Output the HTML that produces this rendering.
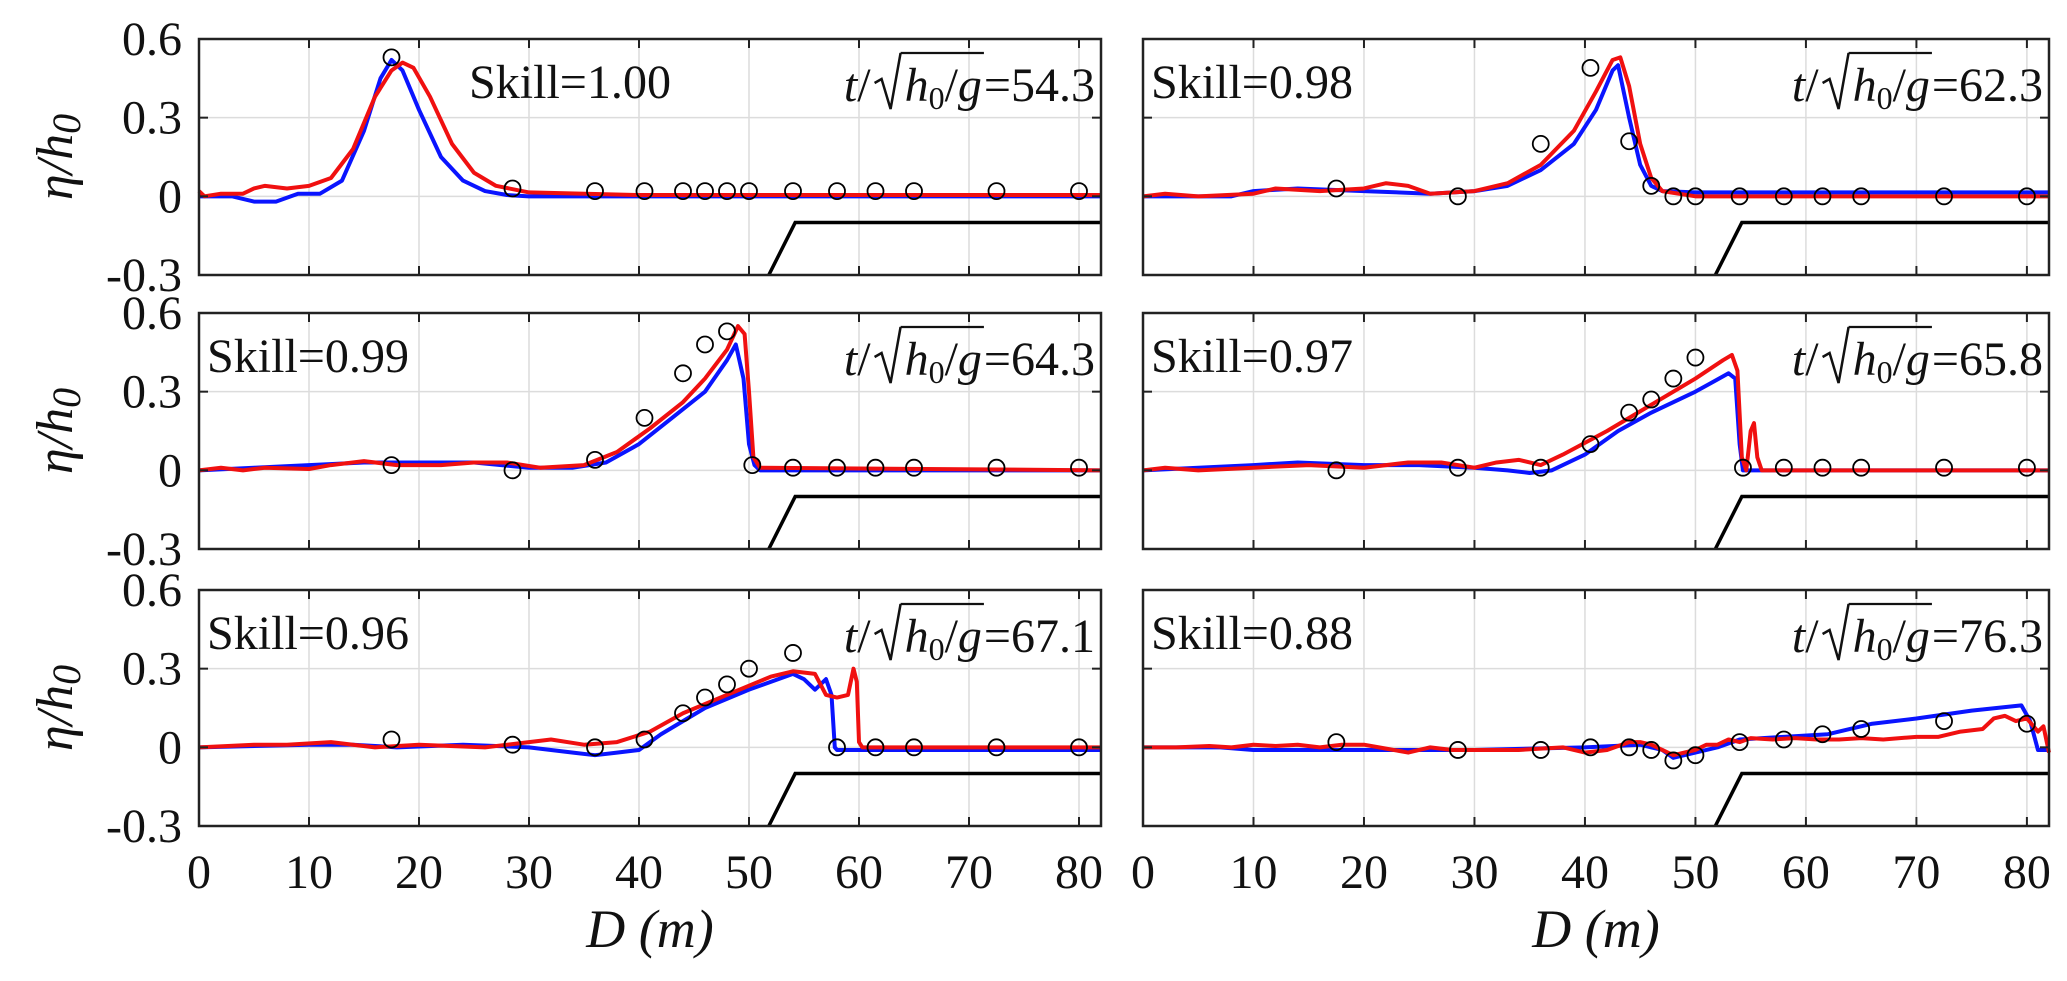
<!DOCTYPE html>
<html><head><meta charset="utf-8">
<style>
html,body{margin:0;padding:0;background:#fff;}
svg{display:block;}
text{font-family:"Liberation Serif","DejaVu Serif",serif;fill:#111;}
</style></head>
<body>
<svg id="fig" width="2067" height="981" viewBox="0 0 2067 981" xmlns="http://www.w3.org/2000/svg"></svg>
<script>
// ---- data ----
const xTicks = [0,10,20,30,40,50,60,70,80];
const yTicks = [-0.3,0,0.3,0.6];
const yTickLabels = ["-0.3","0","0.3","0.6"];
const skills = ["Skill=1.00","Skill=0.98","Skill=0.99","Skill=0.97","Skill=0.96","Skill=0.88"];
const times = ["54.3","62.3","64.3","65.8","67.1","76.3"];
const gaugeX = [17.5,28.5,36,40.5,44,46,48,50,54,58,61.5,65,72.5,80];
const bathX = [51.8,54.2,82];
const bathY = [-0.3,-0.1,-0.1];

const blue1X=[0,3,5,7,9,11,13,15,16.5,17.5,18.5,20,22,24,26,28,30,82];
const blue1Y=[0,0,-0.02,-0.02,0.01,0.01,0.06,0.25,0.45,0.52,0.48,0.33,0.15,0.06,0.02,0.005,0,0];
const red1X=[0,0.5,2,4,5,6,8,10,12,14,16,17.5,18.5,19.5,21,23,25,27,30,40,82];
const red1Y=[0.02,0,0.01,0.01,0.03,0.04,0.03,0.04,0.07,0.18,0.38,0.48,0.51,0.49,0.38,0.2,0.09,0.04,0.015,0.005,0.005];
const obs1=[0.53,0.03,0.02,0.02,0.02,0.02,0.02,0.02,0.02,0.02,0.02,0.02,0.02,0.02];

const blue2X=[0,8,10,14,20,26,30,33,36,39,41,42.5,43,44,45,46,47,50,82];
const blue2Y=[0,0,0.02,0.03,0.02,0.01,0.02,0.04,0.1,0.2,0.33,0.48,0.5,0.3,0.12,0.04,0.02,0.015,0.015];
const red2X=[0,2,5,10,12,16,20,22,24,26,30,33,36,39,41,42.5,43.2,44,45,46,47,50,82];
const red2Y=[0,0.01,0,0.01,0.03,0.02,0.03,0.05,0.04,0.01,0.02,0.05,0.12,0.25,0.4,0.52,0.53,0.42,0.2,0.07,0.02,0,0];
const obs2=[0.03,0,0.2,0.49,0.21,0.04,0,0,0,0,0,0,0,0];

const blue3X=[0,5,10,15,25,30,34,37,40,43,46,48,48.8,49.5,50,50.5,51,82];
const blue3Y=[0,0.01,0.02,0.03,0.03,0.01,0.01,0.03,0.1,0.2,0.3,0.42,0.48,0.35,0.1,0.02,0,0];
const red3X=[0,2,4,6,10,12,15,18,22,25,28,31,35,38,41,44,46,48,49,49.6,50,50.4,51,82];
const red3Y=[0,0.01,0,0.01,0.005,0.02,0.035,0.02,0.02,0.03,0.03,0.01,0.02,0.07,0.16,0.26,0.35,0.46,0.55,0.52,0.3,0.05,0.01,0];
const obs3=[0.02,0,0.04,0.2,0.37,0.48,0.53,0.02,0.01,0.01,0.01,0.01,0.01,0.01];
const gaugeX3=[17.5,28.5,36,40.5,44,46,48,50.3,54,58,61.5,65,72.5,80];

const blue4X=[0,10,14,20,25,30,33,35,37,40,43,46,50,53,53.6,54,54.3,82];
const blue4Y=[0,0.02,0.03,0.02,0.02,0.01,0,-0.01,0,0.06,0.15,0.22,0.3,0.37,0.35,0.1,0,0];
const red4X=[0,2,5,10,15,20,24,27,30,32,34,36,38,42,46,50,52.5,53.3,53.8,54.2,54.6,55,55.3,55.6,56,82];
const red4Y=[0,0.01,0,0.01,0.02,0.01,0.03,0.03,0.01,0.03,0.04,0.02,0.06,0.15,0.25,0.35,0.42,0.44,0.38,0.05,0,0.15,0.18,0.05,0,0];
const obs4=[0,0.01,0.01,0.1,0.22,0.27,0.35,0.43,0.01,0.01,0.01,0.01,0.01,0.01];
const gaugeX4=[17.5,28.5,36,40.5,44,46,48,50,54.3,58,61.5,65,72.5,80];

const blue5X=[0,10,14,18,24,30,34,36,38,40,42,46,50,54,55,56,57,57.5,57.8,58,82];
const blue5Y=[0,0.01,0.01,0,0.01,0,-0.02,-0.03,-0.02,-0.01,0.05,0.15,0.22,0.28,0.26,0.22,0.26,0.2,0,-0.01,-0.01];
const red5X=[0,5,8,12,16,20,26,30,32,35,38,41,44,48,52,54,56,57,58,59,59.5,59.8,60,60.3,82];
const red5Y=[0,0.01,0.01,0.02,0,0.01,0,0.02,0.03,0.01,0.02,0.06,0.13,0.2,0.27,0.29,0.28,0.2,0.19,0.2,0.3,0.25,0.02,0,0];
const obs5=[0.03,0.01,0,0.03,0.13,0.19,0.24,0.3,0.36,0,0,0,0,0];

const blue6X=[0,7,10,20,30,40,45,47,48,50,52,54,58,62,66,70,75,79.5,80.3,81,82];
const blue6Y=[0,0,-0.01,-0.01,-0.01,0,0.01,-0.01,-0.04,-0.02,0,0.03,0.04,0.05,0.09,0.11,0.14,0.16,0.1,-0.01,-0.01];
const red6X=[0,3,6,8,10,12,14,16,18,20,22,24,26,28,30,34,36,38,40,42,44,45,46,47,48,49,50,51,52,53,54,55,57,59,61,63,65,67,70,72,74,76,77,78,79,80,81,81.5,82];
const red6Y=[0,0,0.005,0,0.01,0.005,0.01,0,0.01,0.01,-0.005,-0.02,0,-0.01,-0.01,-0.01,-0.005,0,-0.02,-0.01,0.02,0.02,0.01,-0.01,-0.03,-0.02,-0.01,0.01,0.01,0.03,0.02,0.035,0.03,0.035,0.03,0.03,0.035,0.03,0.04,0.04,0.06,0.07,0.11,0.12,0.1,0.11,0.06,0.08,-0.02];
const obs6=[0.02,-0.01,-0.01,0,0,-0.01,-0.05,-0.03,0.02,0.03,0.05,0.07,0.1,0.09];

const panels=[
 {bx:blue1X,by:blue1Y,rx:red1X,ry:red1Y,gx:gaugeX,oy:obs1},
 {bx:blue2X,by:blue2Y,rx:red2X,ry:red2Y,gx:gaugeX,oy:obs2},
 {bx:blue3X,by:blue3Y,rx:red3X,ry:red3Y,gx:gaugeX3,oy:obs3},
 {bx:blue4X,by:blue4Y,rx:red4X,ry:red4Y,gx:gaugeX4,oy:obs4},
 {bx:blue5X,by:blue5Y,rx:red5X,ry:red5Y,gx:gaugeX,oy:obs5},
 {bx:blue6X,by:blue6Y,rx:red6X,ry:red6Y,gx:gaugeX,oy:obs6}
];

// ---- layout ----
const NS="http://www.w3.org/2000/svg";
const svg=document.getElementById('fig');
const colL=[199,1143], colW=[902,906];
const rowT=[39,313,590], rowH=236;
function mk(tag,attrs,parent){const e=document.createElementNS(NS,tag);for(const k in attrs)e.setAttribute(k,attrs[k]);(parent||svg).appendChild(e);return e;}
const FF='"Liberation Serif","DejaVu Serif",serif';

panels.forEach((p,i)=>{
  const c=i%2, r=Math.floor(i/2);
  const L=colL[c], T=rowT[r], W=colW[c], H=rowH;
  const sx=v=>L+v/82*W;
  const sy=v=>T+(0.6-v)/0.9*H;
  const g=mk('g',{});
  
  
  xTicks.forEach(t=>{ if(t>0){const l=mk('line',{x1:sx(t),x2:sx(t),y1:T,y2:T+H,stroke:'#dcdcdc','stroke-width':1.5},g);
    }});
  yTicks.forEach(t=>{ if(t>-0.3&&t<0.6){const l=mk('line',{x1:L,x2:L+W,y1:sy(t),y2:sy(t),stroke:'#dcdcdc','stroke-width':1.5},g);
    }});
  const bath=mk('polyline',{points:bathX.map((x,k)=>sx(x)+','+sy(bathY[k])).join(' '),fill:'none',stroke:'#000','stroke-width':3.5},g);
  
  const bl=mk('polyline',{points:p.bx.map((x,k)=>sx(x)+','+sy(p.by[k])).join(' '),fill:'none',stroke:'#0a14ff','stroke-width':4,'stroke-linejoin':'round'},g);
  
  const rl=mk('polyline',{points:p.rx.map((x,k)=>sx(x)+','+sy(p.ry[k])).join(' '),fill:'none',stroke:'#f01010','stroke-width':4,'stroke-linejoin':'round'},g);
  
  p.gx.forEach((x,k)=>{const m=mk('circle',{cx:sx(x),cy:sy(p.oy[k]),r:8,fill:'none',stroke:'#000','stroke-width':1.8},g);
    });
  const fr=mk('rect',{x:L,y:T,width:W,height:H,fill:'none',stroke:'#222','stroke-width':2.5},g);
  
  xTicks.forEach(t=>{mk('line',{x1:sx(t),x2:sx(t),y1:T,y2:T+9,stroke:'#222','stroke-width':2},g);mk('line',{x1:sx(t),x2:sx(t),y1:T+H,y2:T+H-9,stroke:'#222','stroke-width':2},g);});
  yTicks.forEach(t=>{mk('line',{x1:L,x2:L+9,y1:sy(t),y2:sy(t),stroke:'#222','stroke-width':2},g);mk('line',{x1:L+W,x2:L+W-9,y1:sy(t),y2:sy(t),stroke:'#222','stroke-width':2},g);});
  if(c===0){
    yTicks.forEach((t,k)=>{const tx=mk('text',{x:182,y:sy(t)+16,'font-size':48,'text-anchor':'end','font-family':FF},g);tx.textContent=yTickLabels[k];
      });
    const yl=mk('text',{x:0,y:0,'font-size':52,'font-style':'italic','text-anchor':'middle','font-family':FF,transform:'translate(72,'+(T+H/2)+') rotate(-90)'},g);
    yl.innerHTML='η/h<tspan font-size="40" dy="8">0</tspan>';
    
  }
  if(r===2){
    xTicks.forEach(t=>{const tx=mk('text',{x:sx(t),y:888,'font-size':48,'text-anchor':'middle','font-family':FF},g);tx.textContent=t;
      });
    const xl=mk('text',{x:L+W/2,y:947,'font-size':54,'font-style':'italic','text-anchor':'middle','font-family':FF},g);
    xl.textContent='D  (m)';
    
  }
  const skx = (i===0)? L+270 : L+8;
  const sk=mk('text',{x:skx,y:T+59,'font-size':48,textLength:202,lengthAdjust:'spacingAndGlyphs','font-family':FF},g);
  sk.textContent=skills[i];
  
  // time label built right to left
  const tg=mk('g',{},g);
  
  const base=T+62;
  let x=L+W-6;
  const eq=mk('text',{x:x,y:base,'font-size':48,'text-anchor':'end','font-family':FF},tg);
  eq.textContent='='+times[i];
  x-=eq.getComputedTextLength()+2;
  const hg=mk('text',{x:x,y:base,'font-size':48,'text-anchor':'end','font-family':FF},tg);
  hg.innerHTML='<tspan font-style="italic">h</tspan><tspan font-size="32" dy="8">0</tspan><tspan dy="-8">/</tspan><tspan font-style="italic">g</tspan>';
  const hw=hg.getComputedTextLength();
  mk('line',{x1:x-hw-4,x2:x+2,y1:T+14,y2:T+14,stroke:'#111','stroke-width':2.2},tg);
  x-=hw+4;
  mk('polyline',{points:(x-26)+','+(base-18)+' '+(x-19)+','+(base-22)+' '+(x-10)+','+(base+8)+' '+(x)+','+(T+14),fill:'none',stroke:'#111','stroke-width':2.5},tg);
  x-=30;
  const tt=mk('text',{x:x,y:base,'font-size':48,'text-anchor':'end','font-family':FF},tg);
  tt.innerHTML='<tspan font-style="italic">t</tspan>/';
});
</script>
</body></html>
